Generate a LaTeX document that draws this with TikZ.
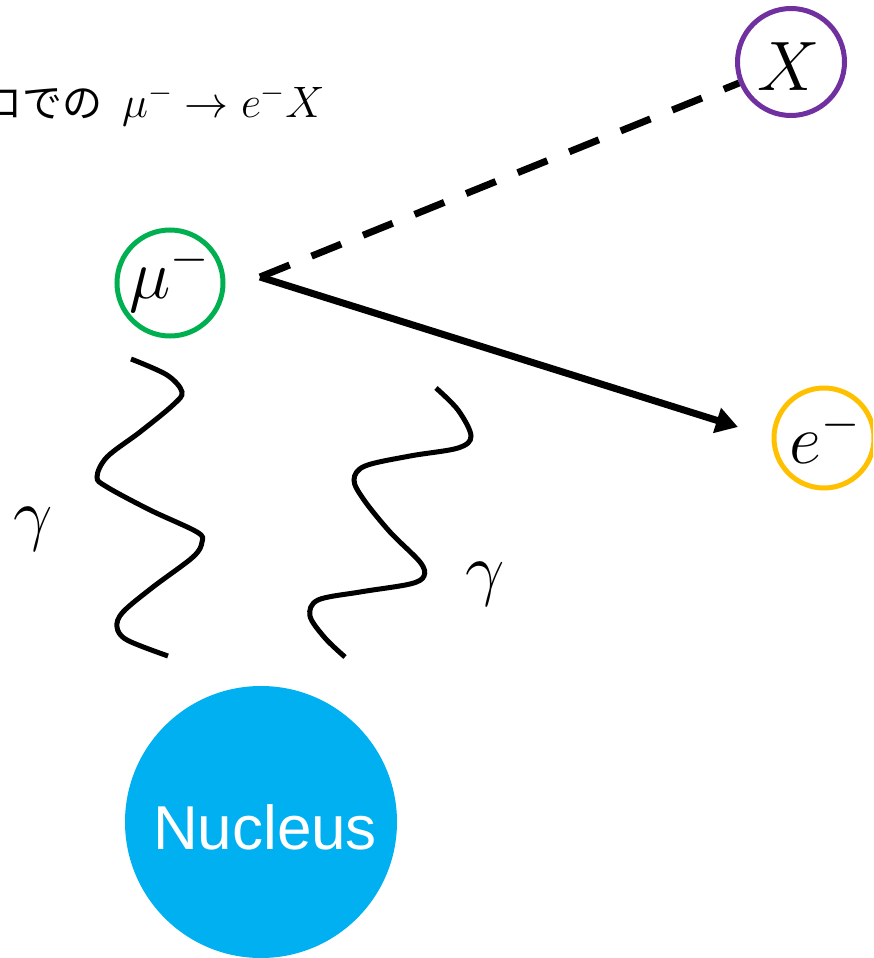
\RequirePackage{fix-cm}
\documentclass[tikz,border=0pt]{standalone}
\usepackage{fontspec}
\newfontfamily\cjk{Noto Sans CJK JP}
\newfontfamily\arialf{Liberation Sans}
\usetikzlibrary{arrows.meta}
\definecolor{mugreen}{HTML}{00B050}
\definecolor{xpurple}{HTML}{7030A0}
\definecolor{eorange}{HTML}{FFC000}
\definecolor{nucblue}{HTML}{00B0F0}
\tikzset{
  ring/.style={circle, draw=#1, line width=5pt, inner sep=0pt},
  biglabel/.style={inner sep=0pt, anchor=base, font=\fontsize{70}{70}\selectfont},
  wave/.style={line width=5pt, line cap=butt},
  dashline/.style={line width=7pt, dash pattern=on 32pt off 23.6pt},
  arrowline/.style={line width=7pt, -{Triangle[length=22pt,width=25pt]}},
}
\begin{document}
\begin{tikzpicture}[x=1pt,y=-1pt]
\useasboundingbox (0,0) rectangle (873,958);
\clip (0,0) rectangle (873,958);
% title
\node[inner sep=0pt, anchor=base east, font=\cjk\fontsize{40}{40}\selectfont] (jp) at (103,117) {ロでの};
\node[inner sep=0pt, anchor=base west, font=\fontsize{44}{44}\selectfont] (title) at (122,117) {$\mu^-\rightarrow e^-X$};
% particles
\node[ring=mugreen, minimum size=106pt] (mu) at (170,283) {};
\node[biglabel] (mulab) at (169,298) {$\mu^-$};
\node[ring=xpurple, minimum size=107pt] (X) at (791,62) {};
\node[biglabel] (Xlab) at (789,90) {$X$};
\node[ring=eorange, minimum size=100pt] (e) at (824,438) {};
\node[biglabel] (elab) at (825,463) {$e^-$};
% nucleus
\node[circle, fill=nucblue, minimum size=272pt, inner sep=0pt] (nuc) at (261,822) {};
\node[inner sep=0pt, anchor=base, text=white, font=\arialf\fontsize{62}{62}\selectfont] (nuclab) at (265,849) {Nucleus};
% vertex and lines
\coordinate (v) at (260,277);
\coordinate (etip) at (738,427);
\draw[dashline] (v) -- (X);
\draw[arrowline] (v) -- (etip);
% photons
\draw[wave] plot[smooth, tension=0.55] coordinates {(131,359) (167,375) (182,392) (173,405) (140,432) (107,457) (97,477) (107,487) (150,510) (197,532) (202,542) (193,557) (153,587) (123,612) (117,627) (127,640) (168,656)};
\draw[wave] plot[smooth, tension=0.55] coordinates {(436,388) (458,410) (471,436) (458,448) (410,456) (365,466) (354,480) (364,500) (390,532) (420,562) (424,576) (410,584) (360,592) (318,600) (310,616) (325,638) (345,657)};
\node[biglabel] (g1) at (33,537) {$\gamma$};
\node[biglabel] (g2) at (485,592) {$\gamma$};
\end{tikzpicture}
\end{document}
